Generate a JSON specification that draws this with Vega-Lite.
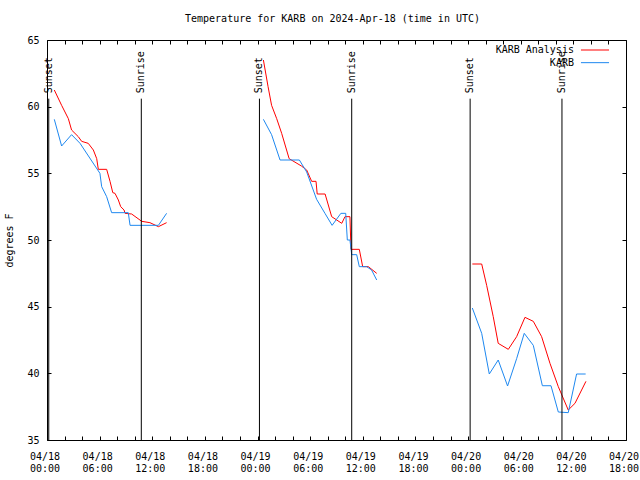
{
  "$schema": "https://vega.github.io/schema/vega-lite/v6.json",
  "width": 579,
  "height": 400,
  "autosize": {"type": "none"},
  "padding": {"left": 47, "top": 40, "right": 14, "bottom": 40},
  "background": "white",
  "title": {"text": "Temperature for KARB on 2024-Apr-18 (time in UTC)", "font": "DejaVu Sans Mono", "fontSize": 10, "fontWeight": "normal", "color": "black", "offset": 11, "dx": -4, "anchor": "middle"},
  "config": {
    "view": {"stroke": "black", "strokeWidth": 1},
    "axis": {"labelFont": "DejaVu Sans Mono", "labelFontSize": 10, "labelColor": "black", "titleFont": "DejaVu Sans Mono", "titleFontSize": 10, "titleFontWeight": "normal", "titleColor": "black", "tickColor": "black", "tickSize": -4, "domain": false, "grid": false},
    "text": {"font": "DejaVu Sans Mono", "fontSize": 10, "color": "black"}
  },
  "datasets": {
    "temps": [
      {"time": "2024-04-18T00:50:00Z", "temp": 61.25, "series": "KARB Analysis", "run": 1},
      {"time": "2024-04-18T01:40:00Z", "temp": 60.1, "series": "KARB Analysis", "run": 1},
      {"time": "2024-04-18T02:26:00Z", "temp": 59.1, "series": "KARB Analysis", "run": 1},
      {"time": "2024-04-18T02:48:00Z", "temp": 58.25, "series": "KARB Analysis", "run": 1},
      {"time": "2024-04-18T03:34:00Z", "temp": 57.75, "series": "KARB Analysis", "run": 1},
      {"time": "2024-04-18T03:57:00Z", "temp": 57.4, "series": "KARB Analysis", "run": 1},
      {"time": "2024-04-18T04:42:00Z", "temp": 57.25, "series": "KARB Analysis", "run": 1},
      {"time": "2024-04-18T05:17:00Z", "temp": 56.75, "series": "KARB Analysis", "run": 1},
      {"time": "2024-04-18T05:40:00Z", "temp": 56.1, "series": "KARB Analysis", "run": 1},
      {"time": "2024-04-18T05:51:00Z", "temp": 55.3, "series": "KARB Analysis", "run": 1},
      {"time": "2024-04-18T06:48:00Z", "temp": 55.3, "series": "KARB Analysis", "run": 1},
      {"time": "2024-04-18T07:11:00Z", "temp": 54.4, "series": "KARB Analysis", "run": 1},
      {"time": "2024-04-18T07:30:00Z", "temp": 53.55, "series": "KARB Analysis", "run": 1},
      {"time": "2024-04-18T07:45:00Z", "temp": 53.5, "series": "KARB Analysis", "run": 1},
      {"time": "2024-04-18T08:08:00Z", "temp": 53.0, "series": "KARB Analysis", "run": 1},
      {"time": "2024-04-18T08:24:00Z", "temp": 52.5, "series": "KARB Analysis", "run": 1},
      {"time": "2024-04-18T08:47:00Z", "temp": 52.25, "series": "KARB Analysis", "run": 1},
      {"time": "2024-04-18T08:54:00Z", "temp": 52.0, "series": "KARB Analysis", "run": 1},
      {"time": "2024-04-18T09:39:00Z", "temp": 51.95, "series": "KARB Analysis", "run": 1},
      {"time": "2024-04-18T10:48:00Z", "temp": 51.4, "series": "KARB Analysis", "run": 1},
      {"time": "2024-04-18T11:44:00Z", "temp": 51.3, "series": "KARB Analysis", "run": 1},
      {"time": "2024-04-18T12:42:00Z", "temp": 51.0, "series": "KARB Analysis", "run": 1},
      {"time": "2024-04-18T13:38:00Z", "temp": 51.3, "series": "KARB Analysis", "run": 1},
      {"time": "2024-04-18T00:50:00Z", "temp": 59.05, "series": "KARB", "run": 1},
      {"time": "2024-04-18T01:40:00Z", "temp": 57.05, "series": "KARB", "run": 1},
      {"time": "2024-04-18T02:48:00Z", "temp": 57.9, "series": "KARB", "run": 1},
      {"time": "2024-04-18T03:46:00Z", "temp": 57.25, "series": "KARB", "run": 1},
      {"time": "2024-04-18T06:02:00Z", "temp": 55.0, "series": "KARB", "run": 1},
      {"time": "2024-04-18T06:14:00Z", "temp": 54.0, "series": "KARB", "run": 1},
      {"time": "2024-04-18T06:48:00Z", "temp": 53.25, "series": "KARB", "run": 1},
      {"time": "2024-04-18T07:22:00Z", "temp": 52.05, "series": "KARB", "run": 1},
      {"time": "2024-04-18T09:16:00Z", "temp": 52.05, "series": "KARB", "run": 1},
      {"time": "2024-04-18T09:28:00Z", "temp": 51.1, "series": "KARB", "run": 1},
      {"time": "2024-04-18T12:42:00Z", "temp": 51.1, "series": "KARB", "run": 1},
      {"time": "2024-04-18T13:38:00Z", "temp": 52.0, "series": "KARB", "run": 1},
      {"time": "2024-04-19T00:40:00Z", "temp": 63.5, "series": "KARB Analysis", "run": 2},
      {"time": "2024-04-19T01:12:00Z", "temp": 61.5, "series": "KARB Analysis", "run": 2},
      {"time": "2024-04-19T01:36:00Z", "temp": 60.1, "series": "KARB Analysis", "run": 2},
      {"time": "2024-04-19T02:11:00Z", "temp": 59.1, "series": "KARB Analysis", "run": 2},
      {"time": "2024-04-19T02:45:00Z", "temp": 58.0, "series": "KARB Analysis", "run": 2},
      {"time": "2024-04-19T03:36:00Z", "temp": 56.1, "series": "KARB Analysis", "run": 2},
      {"time": "2024-04-19T05:00:00Z", "temp": 55.55, "series": "KARB Analysis", "run": 2},
      {"time": "2024-04-19T05:36:00Z", "temp": 55.25, "series": "KARB Analysis", "run": 2},
      {"time": "2024-04-19T06:10:00Z", "temp": 54.4, "series": "KARB Analysis", "run": 2},
      {"time": "2024-04-19T06:40:00Z", "temp": 54.4, "series": "KARB Analysis", "run": 2},
      {"time": "2024-04-19T06:48:00Z", "temp": 53.45, "series": "KARB Analysis", "run": 2},
      {"time": "2024-04-19T07:42:00Z", "temp": 53.45, "series": "KARB Analysis", "run": 2},
      {"time": "2024-04-19T08:27:00Z", "temp": 51.75, "series": "KARB Analysis", "run": 2},
      {"time": "2024-04-19T09:36:00Z", "temp": 51.25, "series": "KARB Analysis", "run": 2},
      {"time": "2024-04-19T09:58:00Z", "temp": 51.75, "series": "KARB Analysis", "run": 2},
      {"time": "2024-04-19T10:32:00Z", "temp": 51.75, "series": "KARB Analysis", "run": 2},
      {"time": "2024-04-19T10:39:00Z", "temp": 49.3, "series": "KARB Analysis", "run": 2},
      {"time": "2024-04-19T11:36:00Z", "temp": 49.3, "series": "KARB Analysis", "run": 2},
      {"time": "2024-04-19T11:59:00Z", "temp": 48.0, "series": "KARB Analysis", "run": 2},
      {"time": "2024-04-19T12:38:00Z", "temp": 48.0, "series": "KARB Analysis", "run": 2},
      {"time": "2024-04-19T13:35:00Z", "temp": 47.5, "series": "KARB Analysis", "run": 2},
      {"time": "2024-04-19T00:40:00Z", "temp": 59.05, "series": "KARB", "run": 2},
      {"time": "2024-04-19T01:36:00Z", "temp": 57.9, "series": "KARB", "run": 2},
      {"time": "2024-04-19T02:34:00Z", "temp": 56.0, "series": "KARB", "run": 2},
      {"time": "2024-04-19T04:46:00Z", "temp": 56.0, "series": "KARB", "run": 2},
      {"time": "2024-04-19T05:36:00Z", "temp": 55.1, "series": "KARB", "run": 2},
      {"time": "2024-04-19T06:44:00Z", "temp": 53.05, "series": "KARB", "run": 2},
      {"time": "2024-04-19T07:41:00Z", "temp": 52.0, "series": "KARB", "run": 2},
      {"time": "2024-04-19T08:30:00Z", "temp": 51.1, "series": "KARB", "run": 2},
      {"time": "2024-04-19T09:30:00Z", "temp": 52.0, "series": "KARB", "run": 2},
      {"time": "2024-04-19T10:03:00Z", "temp": 52.0, "series": "KARB", "run": 2},
      {"time": "2024-04-19T10:14:00Z", "temp": 50.0, "series": "KARB", "run": 2},
      {"time": "2024-04-19T10:32:00Z", "temp": 50.0, "series": "KARB", "run": 2},
      {"time": "2024-04-19T10:44:00Z", "temp": 48.9, "series": "KARB", "run": 2},
      {"time": "2024-04-19T11:18:00Z", "temp": 48.9, "series": "KARB", "run": 2},
      {"time": "2024-04-19T11:36:00Z", "temp": 48.0, "series": "KARB", "run": 2},
      {"time": "2024-04-19T12:26:00Z", "temp": 48.0, "series": "KARB", "run": 2},
      {"time": "2024-04-19T13:00:00Z", "temp": 47.75, "series": "KARB", "run": 2},
      {"time": "2024-04-19T13:35:00Z", "temp": 47.0, "series": "KARB", "run": 2},
      {"time": "2024-04-20T00:29:00Z", "temp": 48.2, "series": "KARB Analysis", "run": 3},
      {"time": "2024-04-20T01:33:00Z", "temp": 48.2, "series": "KARB Analysis", "run": 3},
      {"time": "2024-04-20T02:07:00Z", "temp": 46.6, "series": "KARB Analysis", "run": 3},
      {"time": "2024-04-20T02:52:00Z", "temp": 44.25, "series": "KARB Analysis", "run": 3},
      {"time": "2024-04-20T03:26:00Z", "temp": 42.25, "series": "KARB Analysis", "run": 3},
      {"time": "2024-04-20T04:35:00Z", "temp": 41.8, "series": "KARB Analysis", "run": 3},
      {"time": "2024-04-20T05:32:00Z", "temp": 42.75, "series": "KARB Analysis", "run": 3},
      {"time": "2024-04-20T06:29:00Z", "temp": 44.2, "series": "KARB Analysis", "run": 3},
      {"time": "2024-04-20T07:26:00Z", "temp": 43.9, "series": "KARB Analysis", "run": 3},
      {"time": "2024-04-20T08:23:00Z", "temp": 42.75, "series": "KARB Analysis", "run": 3},
      {"time": "2024-04-20T09:20:00Z", "temp": 40.75, "series": "KARB Analysis", "run": 3},
      {"time": "2024-04-20T10:17:00Z", "temp": 39.0, "series": "KARB Analysis", "run": 3},
      {"time": "2024-04-20T11:25:00Z", "temp": 37.25, "series": "KARB Analysis", "run": 3},
      {"time": "2024-04-20T12:11:00Z", "temp": 37.75, "series": "KARB Analysis", "run": 3},
      {"time": "2024-04-20T13:26:00Z", "temp": 39.4, "series": "KARB Analysis", "run": 3},
      {"time": "2024-04-20T00:29:00Z", "temp": 44.9, "series": "KARB", "run": 3},
      {"time": "2024-04-20T01:33:00Z", "temp": 43.0, "series": "KARB", "run": 3},
      {"time": "2024-04-20T02:25:00Z", "temp": 39.95, "series": "KARB", "run": 3},
      {"time": "2024-04-20T03:26:00Z", "temp": 41.0, "series": "KARB", "run": 3},
      {"time": "2024-04-20T04:30:00Z", "temp": 39.05, "series": "KARB", "run": 3},
      {"time": "2024-04-20T05:32:00Z", "temp": 41.1, "series": "KARB", "run": 3},
      {"time": "2024-04-20T06:24:00Z", "temp": 43.0, "series": "KARB", "run": 3},
      {"time": "2024-04-20T07:26:00Z", "temp": 42.1, "series": "KARB", "run": 3},
      {"time": "2024-04-20T08:28:00Z", "temp": 39.07, "series": "KARB", "run": 3},
      {"time": "2024-04-20T09:27:00Z", "temp": 39.07, "series": "KARB", "run": 3},
      {"time": "2024-04-20T10:17:00Z", "temp": 37.1, "series": "KARB", "run": 3},
      {"time": "2024-04-20T11:25:00Z", "temp": 37.05, "series": "KARB", "run": 3},
      {"time": "2024-04-20T12:22:00Z", "temp": 39.95, "series": "KARB", "run": 3},
      {"time": "2024-04-20T13:24:00Z", "temp": 39.95, "series": "KARB", "run": 3}
    ],
    "sun": [
      {"time": "2024-04-18T00:12:00Z", "event": "Sunset"},
      {"time": "2024-04-18T10:45:00Z", "event": "Sunrise"},
      {"time": "2024-04-19T00:13:00Z", "event": "Sunset"},
      {"time": "2024-04-19T10:44:00Z", "event": "Sunrise"},
      {"time": "2024-04-20T00:14:00Z", "event": "Sunset"},
      {"time": "2024-04-20T10:42:00Z", "event": "Sunrise"}
    ]
  },
  "resolve": {"axis": {"x": "independent", "y": "independent"}},
  "layer": [
    {
      "data": {"name": "temps"},
      "mark": {"type": "line", "strokeWidth": 1, "interpolate": "linear"},
      "encoding": {
        "x": {"field": "time", "type": "temporal",
              "scale": {"type": "utc", "domain": [{"year": 2024, "month": 4, "date": 18, "utc": true}, {"year": 2024, "month": 4, "date": 20, "hours": 18, "utc": true}], "nice": false},
              "axis": {"orient": "bottom", "title": null, "values": [1713398400000,1713405600000,1713412800000,1713420000000,1713427200000,1713434400000,1713441600000,1713448800000,1713456000000,1713463200000,1713470400000,1713477600000,1713484800000,1713492000000,1713499200000,1713506400000,1713513600000,1713520800000,1713528000000,1713535200000,1713542400000,1713549600000,1713556800000,1713564000000,1713571200000,1713578400000,1713585600000,1713592800000,1713600000000,1713607200000,1713614400000,1713621600000,1713628800000,1713636000000],
                       "labelExpr": "utchours(datum.value) % 6 == 0 ? [utcFormat(datum.value, '%m/%d'), utcFormat(datum.value, '%H:%M')] : ''",
                       "labelPadding": 15, "labelOffset": -2.5, "labelBaseline": "top", "labelLineHeight": 12, "labelOverlap": false, "labelFlush": false, "labelBound": false}},
        "y": {"field": "temp", "type": "quantitative",
              "scale": {"domain": [35, 65], "nice": false, "zero": false},
              "axis": {"orient": "left", "title": "degrees F", "values": [35, 40, 45, 50, 55, 60, 65], "labelPadding": 12, "titlePadding": 12}},
        "color": {"field": "series", "type": "nominal", "scale": {"domain": ["KARB Analysis", "KARB"], "range": ["#ff0000", "#1e88f0"]}, "legend": null},
        "detail": {"field": "run", "type": "nominal"}
      }
    },
    {
      "data": {"name": "sun"},
      "mark": {"type": "rule", "color": "black", "strokeWidth": 1},
      "encoding": {
        "x": {"field": "time", "type": "temporal",
              "axis": {"orient": "top", "title": null, "labels": false, "values": [1713398400000,1713405600000,1713412800000,1713420000000,1713427200000,1713434400000,1713441600000,1713448800000,1713456000000,1713463200000,1713470400000,1713477600000,1713484800000,1713492000000,1713499200000,1713506400000,1713513600000,1713520800000,1713528000000,1713535200000,1713542400000,1713549600000,1713556800000,1713564000000,1713571200000,1713578400000,1713585600000,1713592800000,1713600000000,1713607200000,1713614400000,1713621600000,1713628800000,1713636000000]}},
        "y": {"datum": 60.6, "type": "quantitative", "axis": {"orient": "right", "title": null, "labels": false, "values": [35, 40, 45, 50, 55, 60, 65]}},
        "y2": {"datum": 35}
      }
    },
    {
      "data": {"name": "sun"},
      "mark": {"type": "text", "angle": 270, "align": "left", "baseline": "middle", "font": "DejaVu Sans Mono", "fontSize": 10},
      "encoding": {
        "x": {"field": "time", "type": "temporal", "axis": null},
        "y": {"datum": 61.0, "type": "quantitative", "axis": null},
        "text": {"field": "event"}
      }
    },
    {
      "data": {"values": [{}]},
      "mark": {"type": "text", "align": "right", "baseline": "middle", "font": "DejaVu Sans Mono", "fontSize": 10},
      "encoding": {
        "x": {"datum": {"year": 2024, "month": 4, "date": 20, "hours": 12, "minutes": 4, "utc": true}, "type": "temporal", "axis": null},
        "y": {"datum": 64.25, "type": "quantitative", "axis": null},
        "text": {"value": "KARB Analysis"}
      }
    },
    {
      "data": {"values": [{}]},
      "mark": {"type": "text", "align": "right", "baseline": "middle", "font": "DejaVu Sans Mono", "fontSize": 10},
      "encoding": {
        "x": {"datum": {"year": 2024, "month": 4, "date": 20, "hours": 12, "minutes": 4, "utc": true}, "type": "temporal", "axis": null},
        "y": {"datum": 63.3, "type": "quantitative", "axis": null},
        "text": {"value": "KARB"}
      }
    },
    {
      "data": {"values": [{}]},
      "mark": {"type": "rule", "color": "#ff0000", "strokeWidth": 1},
      "encoding": {
        "x": {"datum": {"year": 2024, "month": 4, "date": 20, "hours": 12, "minutes": 52, "utc": true}, "type": "temporal", "axis": null},
        "x2": {"datum": {"year": 2024, "month": 4, "date": 20, "hours": 16, "minutes": 4, "utc": true}},
        "y": {"datum": 64.25, "type": "quantitative", "axis": null}
      }
    },
    {
      "data": {"values": [{}]},
      "mark": {"type": "rule", "color": "#1e88f0", "strokeWidth": 1},
      "encoding": {
        "x": {"datum": {"year": 2024, "month": 4, "date": 20, "hours": 12, "minutes": 52, "utc": true}, "type": "temporal", "axis": null},
        "x2": {"datum": {"year": 2024, "month": 4, "date": 20, "hours": 16, "minutes": 4, "utc": true}},
        "y": {"datum": 63.3, "type": "quantitative", "axis": null}
      }
    }
  ]
}
